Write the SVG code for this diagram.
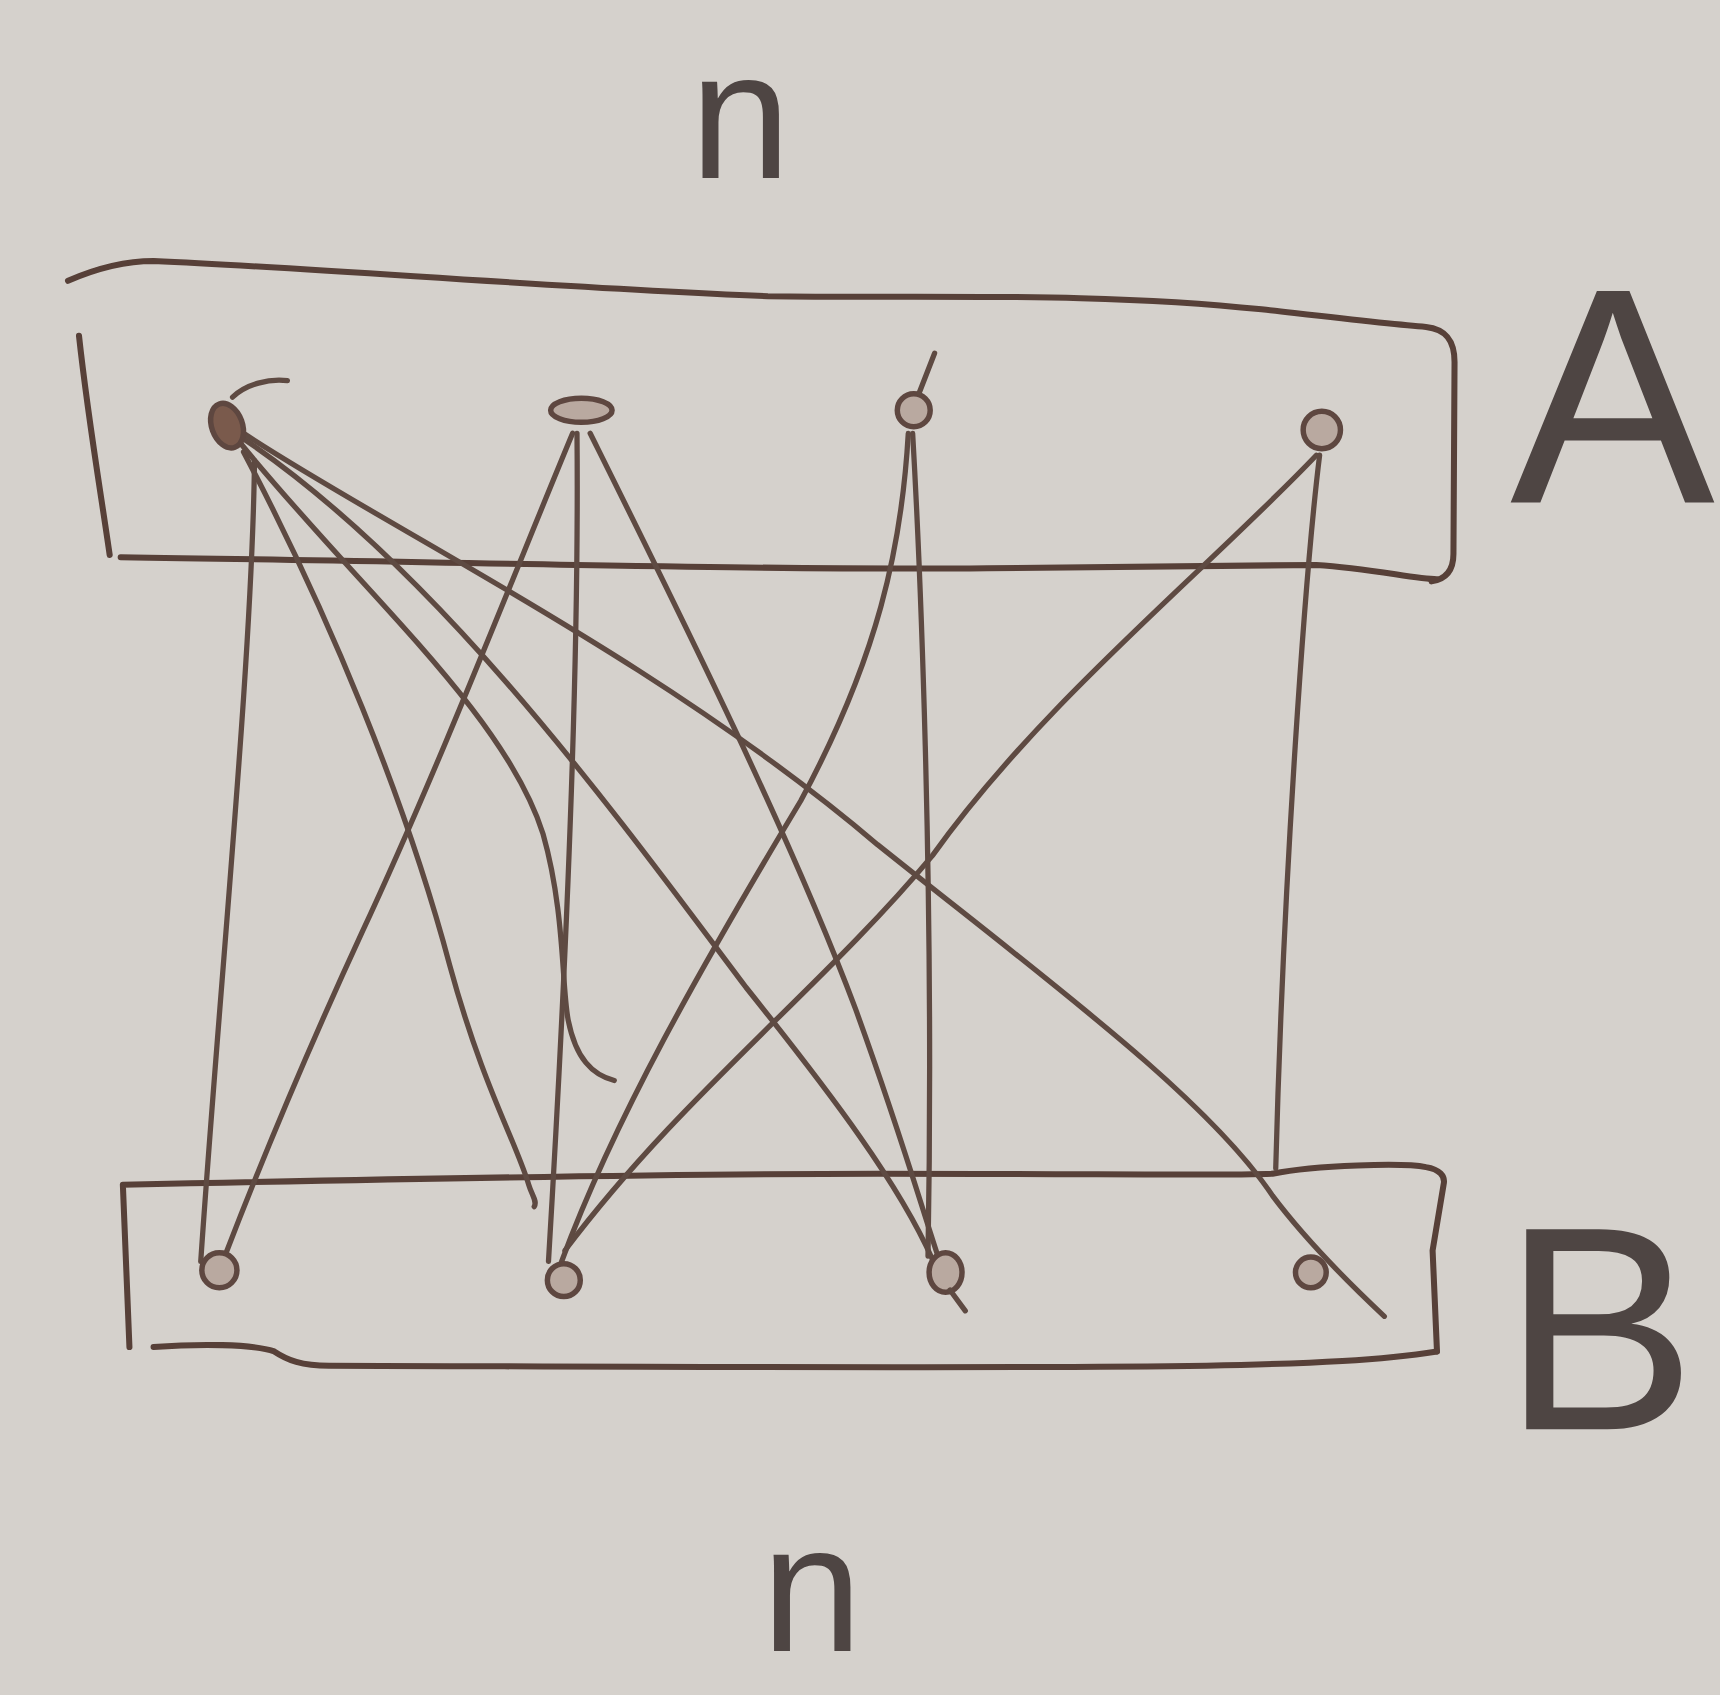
<svg xmlns="http://www.w3.org/2000/svg" width="1720" height="1695" viewBox="0 0 1720 1695">
<style>
.ln{fill:none;stroke:#5e4a42;stroke-width:4.8;stroke-linecap:round;stroke-linejoin:round}
.box{fill:none;stroke:#574038;stroke-width:5.5;stroke-linecap:round;stroke-linejoin:round}
.nd{fill:#b9a9a0;stroke:#5e4740;stroke-width:5}
.lbl{font-family:"Liberation Sans",Arial,sans-serif;fill:#4e4543;text-anchor:middle}
</style>
<rect width="1720" height="1695" fill="#d5d1cc"/>
<g transform="scale(1.096939)">
<g id="set-A">
<path class="box" d="M62,256 C85,246 110,238 140,238 C300,245 500,262 700,270 C850,272 1000,266 1150,282 C1220,290 1270,296 1300,298 C1318,300 1326,310 1326,330 L1325,505 C1325,520 1318,528 1305,530"/>
<path class="box" d="M110,508 C400,512 700,520 900,518 C1050,516 1150,516 1200,515 C1250,518 1290,528 1310,528"/>
<path class="box" d="M72,306 C80,380 92,450 100,506"/>
</g>
<g id="set-B">
<path class="box" d="M118,1228 L112,1080 C300,1076 600,1070 800,1070 C1000,1070 1120,1072 1160,1070 C1200,1062 1280,1060 1300,1064 C1312,1066 1318,1072 1316,1080 L1306,1140 L1310,1232"/>
<path class="box" d="M140,1228 C180,1225 230,1225 250,1232 C262,1240 275,1245 300,1245 C600,1246 900,1248 1100,1245 C1200,1243 1260,1240 1310,1232"/>
</g>
<g id="connectors">
<path class="ln" d="M232,420 C230,600 200,900 183,1150"/>
<path class="ln" d="M222,412 C300,560 370,730 410,880 C440,990 470,1040 482,1080 C485,1090 490,1095 487,1100"/>
<path class="ln" d="M220,405 C330,540 460,650 495,760 C515,830 512,900 518,930 C525,965 540,980 560,985"/>
<path class="ln" d="M222,400 C400,520 560,740 680,900 C760,1000 820,1080 850,1148"/>
<path class="ln" d="M222,395 C350,480 600,600 800,770 C950,890 1100,1000 1160,1090 C1190,1130 1230,1170 1262,1200"/>
<path class="ln" d="M522,395 C470,520 400,700 330,850 C270,980 230,1080 205,1145"/>
<path class="ln" d="M526,395 C528,600 518,850 500,1150"/>
<path class="ln" d="M538,395 C620,560 720,760 780,920 C820,1030 840,1100 856,1148"/>
<path class="ln" d="M828,395 C822,500 800,600 730,730 C640,880 560,1020 512,1150"/>
<path class="ln" d="M832,395 C838,500 852,800 846,1145"/>
<path class="ln" d="M1200,415 C1100,520 950,640 850,780 C750,900 620,1000 515,1140"/>
<path class="ln" d="M1203,415 C1190,520 1170,800 1163,1065"/>
</g>
<g id="a1"><ellipse class="nd" cx="207" cy="388" rx="14" ry="21" transform="rotate(-20 207 388)" style="fill:#7a5a4c"/><path class="ln" d="M212,362 C225,350 245,345 262,347"/></g>
<g id="a2"><ellipse class="nd" cx="530" cy="374" rx="28" ry="11"/></g>
<g id="a3"><circle class="nd" cx="833" cy="374" r="15"/><path class="ln" d="M838,358 L852,322"/></g>
<g id="a4"><circle class="nd" cx="1205" cy="392" r="17"/></g>
<g id="b1"><circle class="nd" cx="200" cy="1158" r="16"/></g>
<g id="b2"><circle class="nd" cx="514" cy="1167" r="15"/></g>
<g id="b3"><ellipse class="nd" cx="862" cy="1160" rx="15" ry="18"/><path class="ln" d="M866,1176 L880,1195"/></g>
<g id="b4"><circle class="nd" cx="1195" cy="1160" r="14"/></g>
<g id="labels">
<text class="lbl" x="675" y="162" font-size="165">n</text>
<text class="lbl" x="1470" y="458" font-size="280">A</text>
<text class="lbl" x="1458" y="1303" font-size="265">B</text>
<text class="lbl" x="740" y="1505" font-size="165">n</text>
</g>
</g>
</svg>
